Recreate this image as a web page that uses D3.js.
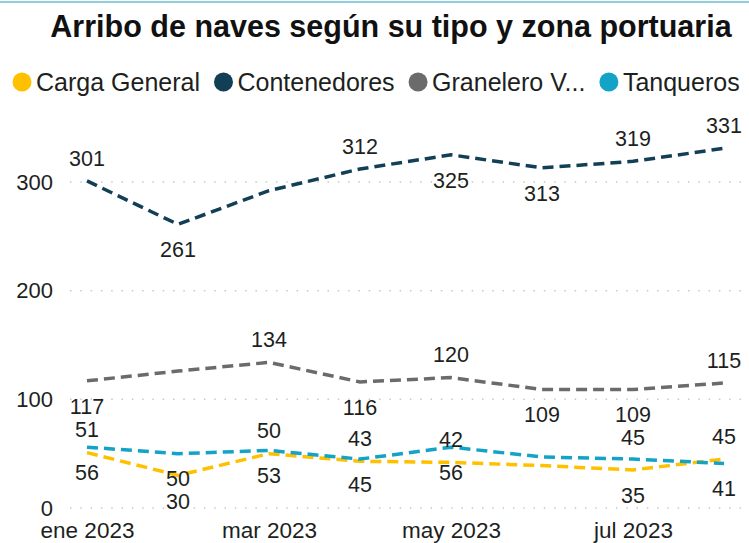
<!DOCTYPE html>
<html>
<head>
<meta charset="utf-8">
<script src="https://cdn.jsdelivr.net/npm/d3@7"></script>
<style>
  body { margin: 0; background: #fff; }
  svg { display: block; font-family: "Liberation Sans", Arial, sans-serif; }
</style>
</head>
<body>
<div id="chart"></div>
<script>
// Arribo de naves — monthly arrivals by vessel type

const months = ['ene 2023', 'feb 2023', 'mar 2023', 'abr 2023', 'may 2023', 'jun 2023', 'jul 2023', 'ago 2023'];
const xTickLabels = ['ene 2023', 'mar 2023', 'may 2023', 'jul 2023'];
const yTicks = [0, 100, 200, 300];

const cargaGeneral = [51, 30, 50, 43, 42, 39, 35, 45];
const contenedores = [301, 261, 292, 312, 325, 313, 319, 331];
const granelero = [117, 126, 134, 116, 120, 109, 109, 115];
const tanqueros = [56, 50, 53, 45, 56, 47, 45, 41];

// where each data label sits: a = above, b = below, '' = not shown
const cargaLabels = ['a', 'b', 'a', 'a', 'a', '', 'b', 'a'];
const contenedoresLabels = ['a', 'b', '', 'a', 'b', 'b', 'a', 'a'];
const graneleroLabels = ['b', '', 'a', 'b', 'a', 'b', 'b', 'a'];
const tanquerosLabels = ['b', 'b', 'b', 'b', 'b', '', 'a', 'b'];

const series = [
    { name: 'Carga General', values: cargaGeneral, labels: cargaLabels, color: '#FFC000' },
    { name: 'Contenedores', values: contenedores, labels: contenedoresLabels, color: '#123F56' },
    { name: 'Granelero V...', values: granelero, labels: graneleroLabels, color: '#6B6B6B' },
    { name: 'Tanqueros', values: tanqueros, labels: tanquerosLabels, color: '#13A3C6' }
];

const width = 749, height = 543;
const textColor = '#201F1E';

const svg = d3.select('#chart').append('svg')
    .attr('width', width).attr('height', height);

// thin accent line on top
svg.append('rect').attr('x', 0).attr('y', 1).attr('width', width).attr('height', 2)
    .attr('fill', '#8ED0DE');

svg.append('text')
    .attr('x', 391).attr('y', 37)
    .attr('text-anchor', 'middle')
    .attr('font-size', '30.5px').attr('font-weight', 'bold')
    .attr('fill', '#111')
    .text('Arribo de naves según su tipo y zona portuaria');

// legend
const legend = svg.append('g');
let cx = 22;
series.forEach(s => {
    legend.append('circle').attr('cx', cx).attr('cy', 82).attr('r', 9.5).attr('fill', s.color);
    const t = legend.append('text')
        .attr('x', cx + 14).attr('y', 91)
        .attr('font-size', '25px').attr('fill', textColor)
        .text(s.name);
    cx += 14 + t.node().getComputedTextLength() + 14 + 9.5;
});

const x = d3.scalePoint().domain(months).range([87, 724]);
const y = d3.scaleLinear().domain([0, 300]).range([508, 182]);

// dotted gridlines
svg.append('g').selectAll('line').data(yTicks).enter()
    .append('line')
    .attr('x1', 70).attr('x2', 747)
    .attr('y1', d => y(d)).attr('y2', d => y(d))
    .attr('stroke', '#C8C8C8').attr('stroke-width', 1.5)
    .attr('stroke-dasharray', '1.5,8.8');

const yAxis = svg.append('g').attr('transform', 'translate(53,0)')
    .call(d3.axisLeft(y).tickValues(yTicks).tickSize(0).tickPadding(0));
yAxis.select('.domain').remove();
yAxis.selectAll('text')
    .attr('font-size', '22px').attr('fill', textColor)
    .attr('font-family', '"Liberation Sans", Arial, sans-serif');

const xAxis = svg.append('g').attr('transform', 'translate(0,522)')
    .call(d3.axisBottom(x).tickValues(xTickLabels).tickSize(0).tickPadding(0));
xAxis.select('.domain').remove();
xAxis.selectAll('text')
    .attr('font-size', '22.5px').attr('fill', textColor)
    .attr('font-family', '"Liberation Sans", Arial, sans-serif');

const line = d3.line()
    .x((d, i) => x(months[i]))
    .y(d => y(d));

const plot = svg.append('g');
series.forEach(s => {
    plot.append('path')
        .attr('d', line(s.values))
        .attr('fill', 'none')
        .attr('stroke', s.color).attr('stroke-width', 3.5)
        .attr('stroke-dasharray', '11,6');
});

// data labels, pushed apart when two in the same month would collide
const labels = [];
series.forEach(s => {
    s.values.forEach((v, i) => {
        const side = s.labels[i];
        if (!side) return;
        labels.push({ v, i, cy: y(v) + (side === 'a' ? -23 : 25) });
    });
});
months.forEach((m, i) => {
    const col = labels.filter(d => d.i === i).sort((a, b) => a.cy - b.cy);
    for (let k = 1; k < col.length; k++) {
        if (col[k].cy - col[k - 1].cy < 23) col[k].cy = col[k - 1].cy + 23;
    }
});

plot.append('g').selectAll('text').data(labels).enter()
    .append('text')
    .attr('x', d => x(months[d.i]))
    .attr('y', d => d.cy)
    .attr('dy', '0.36em')
    .attr('text-anchor', 'middle')
    .attr('font-size', '21.5px').attr('fill', textColor)
    .text(d => d.v);
</script>
</body>
</html>
